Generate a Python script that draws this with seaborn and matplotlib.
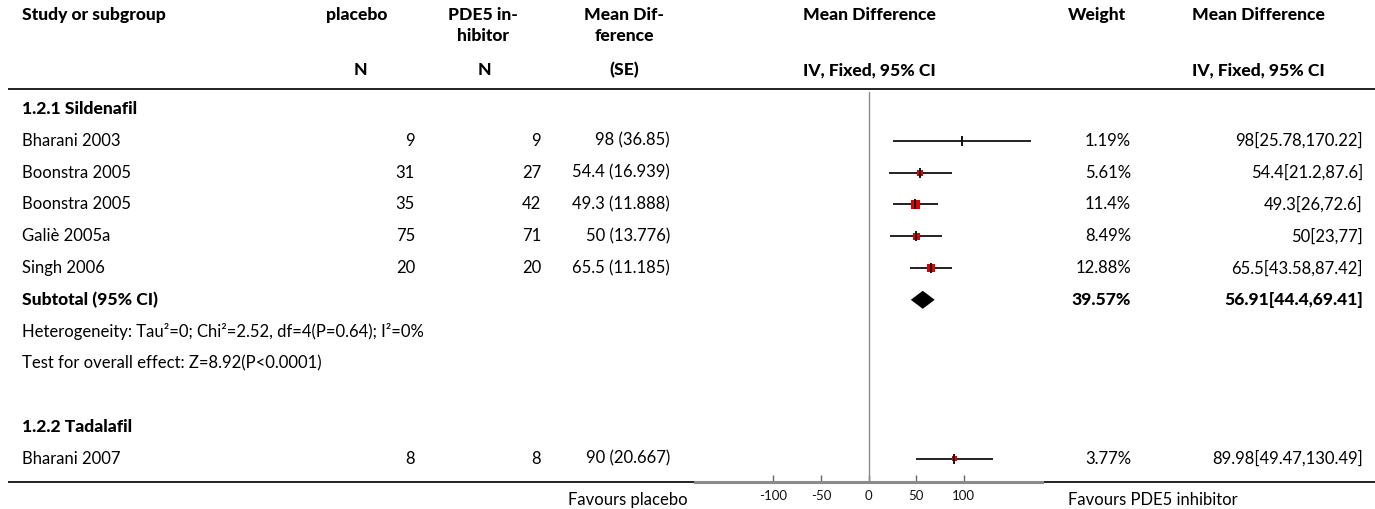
import numpy as np
import pandas as pd
import matplotlib
matplotlib.use("Agg")
import matplotlib.pyplot as plt
import seaborn as sns

# ---------------- data ----------------
studies = ["Bharani 2003", "Boonstra 2005", "Boonstra 2005", "Galiè 2005a", "Singh 2006", "Bharani 2007"]
subgroup = ["Sildenafil", "Sildenafil", "Sildenafil", "Sildenafil", "Sildenafil", "Tadalafil"]
n_placebo = [9, 31, 35, 75, 20, 8]
n_pde5 = [9, 27, 42, 71, 20, 8]
md_se_md = [98, 54.4, 49.3, 50, 65.5, 90]
md_se_se = [36.85, 16.939, 11.888, 13.776, 11.185, 20.667]
est = [98, 54.4, 49.3, 50, 65.5, 89.98]
ci_low = [25.78, 21.2, 26, 23, 43.58, 49.47]
ci_high = [170.22, 87.6, 72.6, 77, 87.42, 130.49]
weights = [1.19, 5.61, 11.4, 8.49, 12.88, 3.77]
study_rows = [1, 2, 3, 4, 5, 11]

sub_est, sub_low, sub_high, sub_weight = 56.91, 44.4, 69.41, 39.57
sub_row = 6
heterogeneity = "Heterogeneity: Tau²=0; Chi²=2.52, df=4(P=0.64); I²=0%"
overall = "Test for overall effect: Z=8.92(P<0.0001)"
group_titles = {0: "1.2.1 Sildenafil", 10: "1.2.2 Tadalafil"}
x_ticks = [-100, -50, 0, 50, 100]
x_limits = (-182, 182)

# ---------------- layout helpers ----------------
W, H = 1375, 509
def row_y(i):
    return 109 + 31.8 * i

sns.set_theme(style="white")
plt.rcParams["font.family"] = ["Lato", "DejaVu Sans"]
FS = 12.0
FSB = 12.6

fig = plt.figure(figsize=(W / 100, H / 100), dpi=100)
tab = fig.add_axes([0, 0, 1, 1])
tab.set_xlim(0, W)
tab.set_ylim(H, 0)
tab.axis("off")

def txt(x, y, s, ha="left", bold=False, size=None, color="#000000"):
    if size is None:
        size = FSB if bold else FS
    tab.text(x, y, s, ha=ha, va="center", fontsize=size,
             fontweight="black" if bold else "normal", color=color)

# header
txt(22, 15, "Study or subgroup", bold=True)
txt(357, 15, "placebo", ha="center", bold=True)
txt(360, 70, "N", ha="center", bold=True)
txt(483, 15, "PDE5 in-", ha="center", bold=True)
txt(483, 36, "hibitor", ha="center", bold=True)
txt(484, 70, "N", ha="center", bold=True)
txt(624, 15, "Mean Dif-", ha="center", bold=True)
txt(624, 36, "ference", ha="center", bold=True)
txt(624, 70, "(SE)", ha="center", bold=True)
txt(869, 15, "Mean Difference", ha="center", bold=True)
txt(869, 70, "IV, Fixed, 95% CI", ha="center", bold=True)
txt(1097, 15, "Weight", ha="center", bold=True)
txt(1258, 15, "Mean Difference", ha="center", bold=True)
txt(1258, 70, "IV, Fixed, 95% CI", ha="center", bold=True)

tab.plot([8, W], [89, 89], color="#222222", lw=1.4, solid_capstyle="butt")
tab.plot([8, W], [482, 482], color="#222222", lw=1.4, solid_capstyle="butt")

for r, t in group_titles.items():
    txt(22, row_y(r), t, bold=True)

for i, r in enumerate(study_rows):
    y = row_y(r)
    txt(22, y, studies[i])
    txt(415, y, str(n_placebo[i]), ha="right")
    txt(541, y, str(n_pde5[i]), ha="right")
    txt(670, y, f"{md_se_md[i]:g} ({md_se_se[i]:g})", ha="right")
    txt(1131, y, f"{weights[i]:g}%", ha="right")
    txt(1363, y, f"{est[i]:g}[{ci_low[i]:g},{ci_high[i]:g}]", ha="right")

ys = row_y(sub_row)
txt(22, ys, "Subtotal (95% CI)", bold=True)
txt(1131, ys, f"{sub_weight:g}%", ha="right", bold=True)
txt(1363, ys, f"{sub_est:g}[{sub_low:g},{sub_high:g}]", ha="right", bold=True)
txt(22, row_y(7), heterogeneity)
txt(22, row_y(8), overall)

txt(688, 500, "Favours placebo", ha="right")
txt(1068, 500, "Favours PDE5 inhibitor", ha="left")

# ---------------- forest panel ----------------
fx0, fx1 = 695, 1042
fy_top, fy_bot = 92, 482
fax = fig.add_axes([fx0 / W, 1 - fy_bot / H, (fx1 - fx0) / W, (fy_bot - fy_top) / H])
fax.patch.set_alpha(0)
fax.set_xlim(*x_limits)
fax.set_ylim(fy_bot, fy_top)

df = pd.DataFrame({
    "est": est, "lo": ci_low, "hi": ci_high, "w": weights,
    "y": [row_y(r) for r in study_rows], "group": subgroup,
})

fax.axvline(0, color="#8a8a8a", lw=1.0, zorder=1)
fax.hlines(df["y"], df["lo"], df["hi"], color="#111111", lw=1.3, zorder=2)
sns.scatterplot(data=df, x="est", y="y", size="w", sizes=(4, 40), marker="s",
                color="#dd0000", edgecolor="none", legend=False, ax=fax, zorder=3)
sns.scatterplot(data=df, x="est", y="y", marker="|", s=55, color="#111111",
                linewidth=1.4, legend=False, ax=fax, zorder=4)

dh = 9
fax.fill([sub_low, sub_est, sub_high, sub_est], [ys, ys - dh, ys, ys + dh],
         color="black", zorder=3, lw=0)

fax.set_xticks(x_ticks)
fax.set_xticklabels([str(t) for t in x_ticks])
fax.set_yticks([])
fax.set_xlabel("")
fax.set_ylabel("")
for s in ["top", "left", "right"]:
    fax.spines[s].set_visible(False)
fax.spines["bottom"].set_color("#8a8a8a")
fax.spines["bottom"].set_linewidth(2.2)
fax.tick_params(axis="x", direction="in", length=5, width=1, color="#666666",
                labelsize=9.5, labelcolor="#111111", pad=6, bottom=True)

fig.savefig("out.png", dpi=100)
